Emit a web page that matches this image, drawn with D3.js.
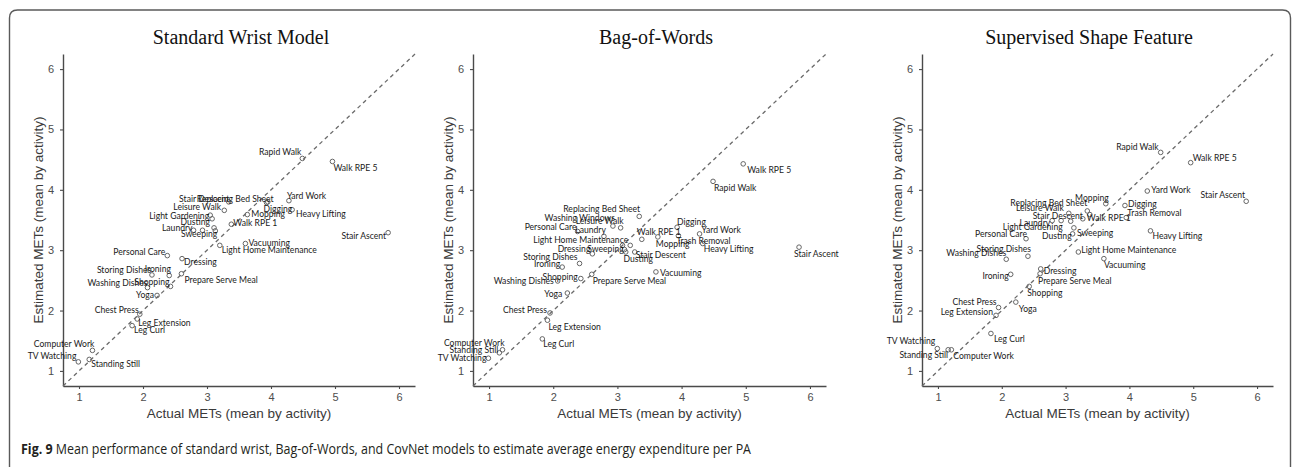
<!DOCTYPE html>
<html>
<head>
<meta charset="utf-8">
<script src="https://cdn.jsdelivr.net/npm/d3@7"></script>
<style>
  html, body { margin: 0; padding: 0; background: #fff; }
  svg { display: block; }
</style>
</head>
<body>
<svg id="chart" width="1293" height="467"></svg>
<script>
// Activities, in the order used by every value array below
const activities = [
  "TV Watching", "Standing Still", "Computer Work", "Leg Curl", "Leg Extension",
  "Chest Press", "Washing Dishes", "Ironing", "Yoga", "Personal Care",
  "Storing Dishes", "Shopping", "Prepare Serve Meal", "Dressing", "Laundry",
  "Washing Windows", "Leisure Walk", "Light Gardening", "Dusting", "Sweeping",
  "Light Home Maintenance", "Stair Descent", "Replacing Bed Sheet", "Walk RPE 1", "Vacuuming",
  "Mopping", "Digging", "Trash Removal", "Yard Work", "Heavy Lifting",
  "Rapid Walk", "Walk RPE 5", "Stair Ascent"
];

// Measured METs (mean by activity)
const actualMets = [
  0.99, 1.16, 1.21, 1.83, 1.91,
  1.95, 2.07, 2.14, 2.22, 2.38,
  2.41, 2.43, 2.60, 2.61, 2.79,
  2.93, 3.05, 3.08, 3.11, 3.13,
  3.20, 3.27, 3.34, 3.38, 3.60,
  3.63, 3.93, 3.95, 4.28, 4.33,
  4.49, 4.96, 5.83
];

// Estimated METs (mean by activity) for each model
const wristEstimate = [
  1.15, 1.19, 1.34, 1.75, 1.86,
  1.94, 2.38, 2.59, 2.25, 2.91,
  2.58, 2.40, 2.61, 2.86, 3.33,
  3.33, 3.58, 3.52, 3.37, 3.32,
  3.08, 3.66, 3.80, 3.43, 3.11,
  3.59, 3.79, 3.80, 3.82, 3.67,
  4.52, 4.47, 3.29
];
const bowEstimate = [
  1.21, 1.30, 1.35, 1.53, 1.84,
  1.96, 2.49, 2.72, 2.29, 3.31,
  2.78, 2.53, 2.60, 2.94, 3.23,
  3.40, 3.37, 3.08, 3.01, 2.97,
  3.08, 2.97, 3.56, 3.18, 2.64,
  3.22, 3.38, 3.24, 3.27, 3.11,
  4.14, 4.43, 3.05
];
const shapeEstimate = [
  1.37, 1.35, 1.35, 1.62, 1.92,
  2.05, 2.85, 2.60, 2.14, 3.19,
  2.90, 2.40, 2.61, 2.69, 3.49,
  3.49, 3.61, 3.48, 3.27, 3.37,
  2.97, 3.52, 3.65, 3.59, 2.86,
  3.77, 3.74, 3.54, 3.98, 3.32,
  4.62, 4.45, 3.81
];

const panelTitles = ["Standard Wrist Model", "Bag-of-Words", "Supervised Shape Feature"];
const axisTicks = [1, 2, 3, 4, 5, 6];
const xAxisTitle = "Actual METs (mean by activity)";
const yAxisTitle = "Estimated METs (mean by activity)";
const captionBold = "Fig. 9";
const captionText = " Mean performance of standard wrist, Bag-of-Words, and CovNet models to estimate average energy expenditure per PA";

// Repelled label placement per panel: [anchor, dx, dy] in pixels from the point
// (anchor "s" = text starts there, "e" = text ends there; dy is the text centre).
const labelLayout = [
  {
    "Rapid Walk": ["e", -1, -6], "Walk RPE 5": ["s", 1, 7], "Yard Work": ["s", -2, -5],
    "Heavy Lifting": ["s", 4, 4], "Digging": ["s", -3, 6], "Replacing Bed Sheet": ["s", -32, -3],
    "Stair Descent": ["e", 5, -11], "Leisure Walk": ["e", 11, -8], "Light Gardening": ["e", -3, -3],
    "Dusting": ["e", -4, -6], "Laundry": ["e", -1, -2], "Sweeping": ["e", 2, 3],
    "Walk RPE 1": ["s", 2, -1], "Mopping": ["s", 4, -1], "Stair Ascent": ["e", -2, 3],
    "Vacuuming": ["s", 3, -1], "Light Home Maintenance": ["s", 2, 5], "Personal Care": ["e", -2, -4],
    "Dressing": ["s", 2, 3], "Storing Dishes": ["e", -18, -6], "Ironing": ["e", 19, -6],
    "Washing Dishes": ["e", 0, -5], "Shopping": ["e", -1, -4], "Prepare Serve Meal": ["s", 3, 6],
    "Yoga": ["e", -3, 0], "Chest Press": ["e", -1, -4], "Leg Extension": ["s", 1, 4],
    "Leg Curl": ["s", 2, 4], "Computer Work": ["e", 2, -6], "TV Watching": ["e", -2, -6],
    "Standing Still": ["s", 2, 5]
  },
  {
    "Walk RPE 5": ["s", 4, 6], "Rapid Walk": ["s", 1, 7], "Replacing Bed Sheet": ["e", 1, -7],
    "Washing Windows": ["e", 2, -8], "Leisure Walk": ["e", 3, -7], "Personal Care": ["e", -1, -4],
    "Laundry": ["e", 2, -6], "Light Home Maintenance": ["e", -2, -5], "Dressing": ["e", -2, -5],
    "Sweeping": ["e", -2, -3], "Walk RPE 1": ["s", -5, -7], "Mopping": ["s", -2, 7],
    "Digging": ["s", 0, -5], "Yard Work": ["s", 2, -4], "Trash Removal": ["s", -2, 5],
    "Heavy Lifting": ["s", 1, 5], "Stair Descent": ["s", 1, 3], "Dusting": ["s", -1, 9],
    "Stair Ascent": ["s", -5, 7], "Storing Dishes": ["e", -2, -6], "Ironing": ["e", -2, -3],
    "Vacuuming": ["s", 4, 1], "Shopping": ["e", -3, -2], "Washing Dishes": ["e", -4, 0],
    "Prepare Serve Meal": ["s", 1, 7], "Yoga": ["e", -5, 1], "Chest Press": ["e", -3, -3],
    "Leg Extension": ["s", 1, 7], "Leg Curl": ["s", 1, 5], "Computer Work": ["e", 2, -7],
    "Standing Still": ["e", -1, -3], "TV Watching": ["e", -2, 0]
  },
  {
    "Rapid Walk": ["e", -2, -5], "Walk RPE 5": ["s", 2, -5], "Yard Work": ["s", 4, -1],
    "Stair Ascent": ["e", -1, -6], "Mopping": ["e", 3, -6], "Digging": ["s", 3, -2],
    "Trash Removal": ["s", 1, -5], "Replacing Bed Sheet": ["e", 0, -8], "Leisure Walk": ["e", -5, -5],
    "Stair Descent": ["e", 0, -3], "Walk RPE 1": ["s", -3, 3], "Laundry": ["e", -2, 2],
    "Light Gardening": ["e", -8, 6], "Personal Care": ["e", 1, -5], "Dusting": ["e", -1, 2],
    "Sweeping": ["s", 3, 5], "Heavy Lifting": ["s", 2, 5], "Storing Dishes": ["e", 3, -7],
    "Washing Dishes": ["e", 0, -6], "Light Home Maintenance": ["s", 3, -2], "Vacuuming": ["s", 0, 6],
    "Dressing": ["s", 3, 2], "Prepare Serve Meal": ["s", -2, 7], "Ironing": ["e", -2, 2],
    "Shopping": ["s", -2, 7], "Chest Press": ["e", -2, -6], "Yoga": ["s", 3, 7],
    "Leg Extension": ["e", -3, -3], "Leg Curl": ["s", 3, 6], "TV Watching": ["e", -2, -8],
    "Standing Still": ["e", 0, 5], "Computer Work": ["s", 2, 6]
  }
];

const panels = [
  { estimate: wristEstimate, left: 63, right: 415, titleX: 241, yTitleX: 43 },
  { estimate: bowEstimate, left: 473, right: 826, titleX: 656, yTitleX: 453 },
  { estimate: shapeEstimate, left: 922, right: 1273, titleX: 1089, yTitleX: 902 }
];

const svg = d3.select("#chart");
const plotTop = 54, plotBottom = 386;
const domain = [0.75, 6.25];
const axisColor = "#4a4a4a";
const textGray = "#4d4d4d";

// Outer frame with rounded top corners
svg.append("path")
  .attr("d", "M9.5,470 V18 Q9.5,10 17.5,10 H1282.5 Q1290.5,10 1290.5,18 V470")
  .attr("fill", "none")
  .attr("stroke", "#5a5a5a")
  .attr("stroke-width", 1.4);

panels.forEach((p, i) => {
  const x = d3.scaleLinear().domain(domain).range([p.left, p.right]);
  const y = d3.scaleLinear().domain(domain).range([plotBottom, plotTop]);
  const g = svg.append("g");

  // Title
  g.append("text")
    .attr("x", p.titleX).attr("y", 44)
    .attr("text-anchor", "middle")
    .attr("font-family", "'Liberation Serif', 'Times New Roman', serif")
    .attr("font-size", 20)
    .attr("fill", "#111")
    .text(panelTitles[i]);

  // Axes
  const fmt = d3.format("d");
  const xAxis = g.append("g")
    .attr("transform", `translate(0,${plotBottom})`)
    .call(d3.axisBottom(x).tickValues(axisTicks).tickFormat(fmt)
      .tickSize(3).tickSizeOuter(0).tickPadding(4));
  const yAxis = g.append("g")
    .attr("transform", `translate(${p.left},0)`)
    .call(d3.axisLeft(y).tickValues(axisTicks).tickFormat(fmt)
      .tickSize(3).tickSizeOuter(0).tickPadding(6));
  [xAxis, yAxis].forEach(ax => {
    ax.select(".domain").attr("stroke", axisColor).attr("stroke-width", 1.4);
    ax.selectAll(".tick line").attr("stroke", axisColor).attr("stroke-width", 1.1);
    ax.selectAll(".tick text")
      .attr("fill", textGray)
      .attr("font-family", "'Liberation Sans', Arial, sans-serif")
      .attr("font-size", 11);
  });

  // Axis titles
  g.append("text")
    .attr("x", (p.left + p.right) / 2).attr("y", 418)
    .attr("text-anchor", "middle")
    .attr("font-family", "'Liberation Sans', Arial, sans-serif")
    .attr("font-size", 13.5)
    .attr("fill", "#3a3a3a")
    .text(xAxisTitle);
  g.append("text")
    .attr("transform", `translate(${p.yTitleX},${(plotTop + plotBottom) / 2}) rotate(-90)`)
    .attr("text-anchor", "middle")
    .attr("font-family", "'Liberation Sans', Arial, sans-serif")
    .attr("font-size", 13.5)
    .attr("fill", "#3a3a3a")
    .text(yAxisTitle);

  // Identity line
  g.append("line")
    .attr("x1", x(domain[0])).attr("y1", y(domain[0]))
    .attr("x2", x(domain[1])).attr("y2", y(domain[1]))
    .attr("stroke", "#6a6a6a")
    .attr("stroke-width", 1.3)
    .attr("stroke-dasharray", "4,3.5");

  const rows = activities.map((name, k) => ({ name, a: actualMets[k], e: p.estimate[k] }));

  // Points
  g.selectAll("circle.pt").data(rows).join("circle")
    .attr("class", "pt")
    .attr("cx", d => x(d.a)).attr("cy", d => y(d.e))
    .attr("r", 2.3)
    .attr("fill", "none")
    .attr("stroke", "#666")
    .attr("stroke-width", 1);

  // Labels
  const layout = labelLayout[i];
  g.selectAll("text.lbl").data(rows.filter(d => layout[d.name])).join("text")
    .attr("class", "lbl")
    .attr("x", d => x(d.a) + layout[d.name][1])
    .attr("y", d => y(d.e) + layout[d.name][2])
    .attr("dy", "0.35em")
    .attr("text-anchor", d => layout[d.name][0] === "s" ? "start" : "end")
    .attr("font-family", "Lato, 'Open Sans', sans-serif")
    .attr("font-size", 8.6)
    .attr("fill", "#1a1a1a")
    .text(d => d.name);
});

// Caption
const cap = svg.append("text")
  .attr("x", 21).attr("y", 454)
  .attr("font-family", "'Open Sans', 'Noto Sans', sans-serif")
  .attr("font-size", 14)
  .attr("fill", "#231f20")
  .attr("textLength", 730)
  .attr("lengthAdjust", "spacingAndGlyphs");
cap.append("tspan").attr("font-weight", "bold").text(captionBold);
cap.append("tspan").text(captionText);
</script>
</body>
</html>
